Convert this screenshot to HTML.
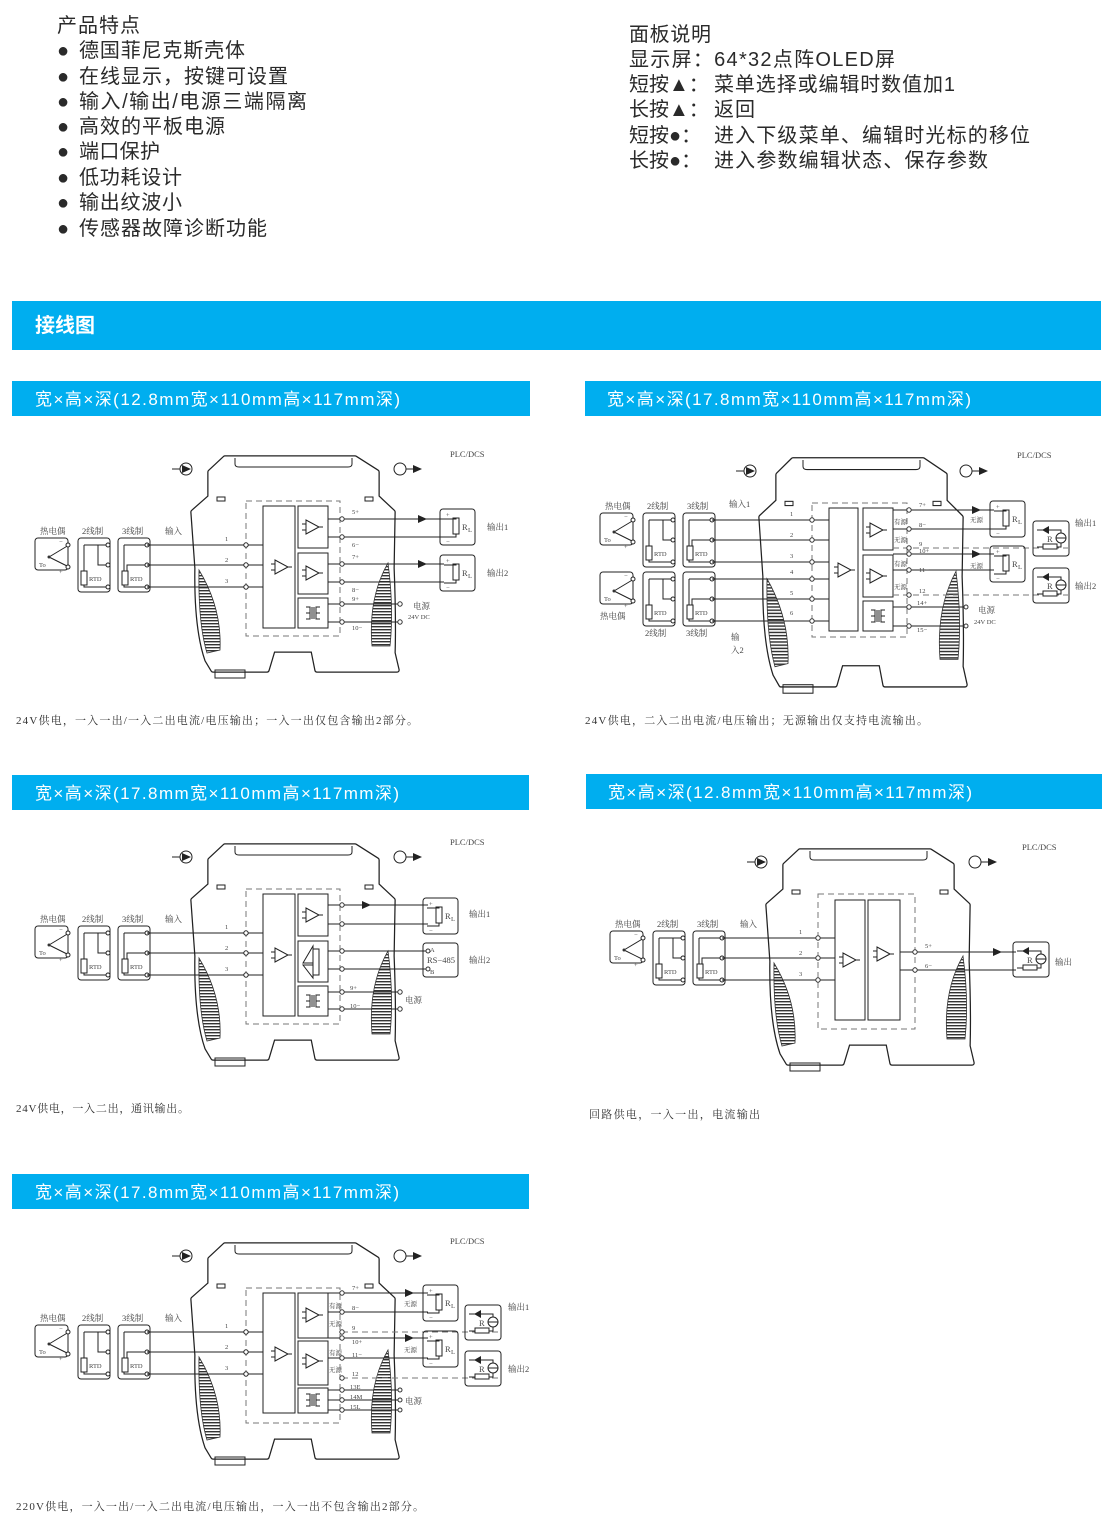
<!DOCTYPE html>
<html><head><meta charset="utf-8"><style>
html,body{margin:0;padding:0;background:#fff}
svg{display:block}
.t{font-family:"Liberation Sans","Noto Sans CJK SC",sans-serif;font-size:20px;fill:#2a2a2a}
.bar{font-family:"Liberation Sans","Noto Sans CJK SC",sans-serif;font-size:17px;fill:#fff}
.cap{font-family:"Liberation Serif","Noto Serif CJK SC",serif;font-size:11px;fill:#333}
.d{font-family:"Liberation Serif","Noto Serif CJK SC",serif;font-size:8.5px;fill:#444}
.s{font-family:"Liberation Serif","Noto Serif CJK SC",serif;font-size:6.5px;fill:#444}
.l{fill:none;stroke:#222;stroke-width:1}
.k{fill:#fff;stroke:#222;stroke-width:1}
.dash{fill:none;stroke:#777;stroke-width:1;stroke-dasharray:6 4}
</style></head><body>
<svg width="1115" height="1523" viewBox="0 0 1115 1523" xmlns="http://www.w3.org/2000/svg">
<defs>
<pattern id="h" width="4" height="3" patternUnits="userSpaceOnUse"><rect width="4" height="1.4" fill="#333"/></pattern>
<g id="house">
 <path d="M35,0 L165,0 L187,14 L187,39 L203,54 L202,110 Q204,160 203,195 L207,212 L127,212 L123,192 L83,192 L77,212 L23,212 L17,202 Q6,170 7,110 L3,54 L20,39 L20,14 Z" fill="none" stroke="#222" stroke-width="5.5" stroke-linejoin="round"/>
 <path d="M35,0 L165,0 L187,14 L187,39 L203,54 L202,110 Q204,160 203,195 L207,212 L127,212 L123,192 L83,192 L77,212 L23,212 L17,202 Q6,170 7,110 L3,54 L20,39 L20,14 Z" fill="#fff" stroke="#fff" stroke-width="3" stroke-linejoin="round"/>
 <path d="M45,0 L45,6 Q45,9 49,9 L158,9 Q162,9 162,6 L162,0" class="l"/>
 <rect x="27" y="39" width="8" height="4" class="k"/><rect x="175" y="39" width="8" height="4" class="k"/>
 <path d="M9,112 Q32,150 30,192 L17,195 Q8,165 9,112 Z" fill="url(#h)" stroke="#333" stroke-width="0.8"/>
 <path d="M198,105 Q178,140 182,188 L200,188 Q204,150 198,105 Z" fill="url(#h)" stroke="#333" stroke-width="0.8"/>
 <rect x="25" y="212" width="30" height="8" class="l"/>
</g>
<g id="arrows">
 <path d="M172,469 H180" class="l"/><circle cx="186" cy="469" r="6" class="k"/><path d="M182,465 L191,469 L182,473 Z" fill="#222"/>
 <circle cx="400" cy="469" r="6" class="k"/><path d="M406,469 H414" class="l"/><path d="M413,465 L422,469 L413,473 Z" fill="#222"/>
</g>
<g id="senslab"><text x="4" y="4" class="d">热电偶</text><text x="46" y="4" class="d">2线制</text><text x="86" y="4" class="d">3线制</text></g>
<g id="sens">
 <rect x="-1" y="8" width="33" height="32" rx="3" class="l"/>
 <path d="M13,27 L33,15 M13,27 L33,37" class="l"/><circle cx="13" cy="27" r="1.5" fill="#333"/>
 <circle cx="32" cy="15" r="2" class="k"/><circle cx="32" cy="37" r="2" class="k"/>
 <text x="3" y="37" class="s">To</text><text x="23" y="14" class="s">−</text><text x="23" y="44" class="s">+</text>
 <rect x="42" y="8" width="32" height="54" rx="3" class="l"/>
 <path d="M48,15 H72 M62,15 V35 H72 M48,15 V57 H72" class="l"/><rect x="45" y="41" width="6" height="14" class="k"/>
 <text x="53" y="51" class="s">RTD</text>
 <circle cx="72" cy="15" r="2" class="k"/><circle cx="72" cy="35" r="2" class="k"/><circle cx="72" cy="57" r="2" class="k"/>
 <rect x="82" y="8" width="32" height="54" rx="3" class="l"/>
 <path d="M88,15 H111 M88,15 V57 H111 M91,41 V35 H111" class="l"/><rect x="86" y="41" width="6" height="14" class="k"/>
 <text x="94" y="51" class="s">RTD</text>
 <circle cx="111" cy="15" r="2" class="k"/><circle cx="111" cy="35" r="2" class="k"/><circle cx="111" cy="57" r="2" class="k"/>
</g>
<g id="amp"><path d="M0,-7 L0,7 L13,0 Z" class="k"/><path d="M-4,-3 H0 M-4,3 H0 M13,0 H17" class="l"/></g>
<g id="tr"><path d="M-7,-6 H-3 V6 H-7 M7,-6 H3 V6 H7 M-1,-6 V6 M1,-6 V6 M-7,0 H-3 M3,0 H7" class="l"/></g>
<g id="rl"><rect x="0" y="0" width="35" height="36" rx="3" class="l"/><rect x="13" y="9" width="6" height="16" class="k"/><path d="M4,10 H16 V9 M16,25 V28 H4" class="l"/><text x="22" y="21" class="d">R</text><text x="28" y="23" class="s">L</text><text x="6" y="8" class="s">+</text><text x="6" y="35" class="s">−</text></g>
<g id="src"><rect x="0" y="0" width="36" height="35" rx="3" class="l"/><path d="M4,9 H28 V12 M28,22 V26 H4" class="l"/><path d="M9,9 L16,5 L16,13 Z" fill="#222"/><circle cx="28" cy="17" r="5" class="k"/><path d="M23,17 H33" class="l"/><rect x="10" y="23" width="14" height="5" class="k"/><text x="14" y="21" class="d">R</text></g>
<g id="base">
 <use href="#house" transform="translate(190,458)"/>
 <use href="#arrows"/>
 <text x="450" y="457" class="d">PLC/DCS</text>
 <use href="#senslab" transform="translate(36,530)"/>
 <use href="#sens" transform="translate(36,530)"/>
 <text x="165" y="534" class="d">输入</text>
 <rect x="246" y="501" width="94" height="135" class="dash"/>
 <path d="M147,545 H263 M147,565 H263 M147,587 H263" class="l"/>
 <circle cx="246" cy="545" r="2.2" class="k"/><circle cx="246" cy="565" r="2.2" class="k"/><circle cx="246" cy="587" r="2.2" class="k"/>
 <text x="225" y="541" class="s">1</text><text x="225" y="562" class="s">2</text><text x="225" y="583" class="s">3</text>
</g>
</defs>

<!-- header text -->
<text x="57" y="32" class="t" textLength="83">产品特点</text>
<g class="t">
<text x="57" y="57">●</text><text x="79" y="57" textLength="166">德国菲尼克斯壳体</text>
<text x="57" y="83">●</text><text x="79" y="83" textLength="209">在线显示，按键可设置</text>
<text x="57" y="108">●</text><text x="79" y="108" textLength="228">输入/输出/电源三端隔离</text>
<text x="57" y="133">●</text><text x="79" y="133" textLength="146">高效的平板电源</text>
<text x="57" y="158">●</text><text x="79" y="158" textLength="81">端口保护</text>
<text x="57" y="184">●</text><text x="79" y="184" textLength="103">低功耗设计</text>
<text x="57" y="209">●</text><text x="79" y="209" textLength="103">输出纹波小</text>
<text x="57" y="235">●</text><text x="79" y="235" textLength="188">传感器故障诊断功能</text>
<text x="629" y="41" textLength="82">面板说明</text>
<text x="629" y="66" textLength="266">显示屏：64*32点阵OLED屏</text>
<text x="629" y="91">短按▲：</text><text x="714" y="91" textLength="241">菜单选择或编辑时数值加1</text>
<text x="629" y="116">长按▲：</text><text x="714" y="116" textLength="41">返回</text>
<text x="629" y="142">短按●：</text><text x="714" y="142" textLength="316">进入下级菜单、编辑时光标的移位</text>
<text x="629" y="167">长按●：</text><text x="714" y="167" textLength="274">进入参数编辑状态、保存参数</text>
</g>

<rect x="12" y="301" width="1089" height="49" fill="#00aeef"/>
<text x="35" y="332" style="font-family:'Liberation Sans','Noto Sans CJK SC',sans-serif;font-size:20px;font-weight:bold;fill:#fff">接线图</text>

<rect x="12" y="381" width="518" height="35" fill="#00aeef"/>
<text x="35" y="405" class="bar" textLength="365">宽×高×深(12.8mm宽×110mm高×117mm深)</text>
<rect x="585" y="381" width="516" height="35" fill="#00aeef"/>
<text x="607" y="405" class="bar" textLength="364">宽×高×深(17.8mm宽×110mm高×117mm深)</text>
<rect x="12" y="775" width="517" height="35" fill="#00aeef"/>
<text x="35" y="799" class="bar" textLength="364">宽×高×深(17.8mm宽×110mm高×117mm深)</text>
<rect x="586" y="774" width="516" height="35" fill="#00aeef"/>
<text x="608" y="798" class="bar" textLength="364">宽×高×深(12.8mm宽×110mm高×117mm深)</text>
<rect x="12" y="1174" width="517" height="35" fill="#00aeef"/>
<text x="35" y="1198" class="bar" textLength="364">宽×高×深(17.8mm宽×110mm高×117mm深)</text>

<text x="16" y="724" class="cap" textLength="402">24V供电，一入一出/一入二出电流/电压输出；一入一出仅包含输出2部分。</text>
<text x="585" y="724" class="cap" textLength="343">24V供电，二入二出电流/电压输出；无源输出仅支持电流输出。</text>
<text x="16" y="1112" class="cap" textLength="173">24V供电，一入二出，通讯输出。</text>
<text x="589" y="1118" class="cap" textLength="171">回路供电，一入一出，电流输出</text>
<text x="16" y="1510" class="cap" textLength="408">220V供电，一入一出/一入二出电流/电压输出，一入一出不包含输出2部分。</text>

<!-- Diagram 1 -->
<g>
 <use href="#base"/>
 <rect x="263" y="506" width="32" height="122" class="k"/><use href="#amp" transform="translate(275,567)"/>
 <rect x="298" y="506" width="30" height="42" class="k"/><use href="#amp" transform="translate(306,527)"/>
 <rect x="298" y="553" width="30" height="41" class="k"/><use href="#amp" transform="translate(306,573)"/>
 <rect x="298" y="598" width="30" height="30" class="k"/><use href="#tr" transform="translate(313,613)"/>
 <path d="M328,519 H444 M328,537 H444 M328,564 H444 M328,582 H444 M328,604 H400 M328,622 H400" class="l"/>
 <path d="M418,515 L427,519 L418,523 Z M418,560 L427,564 L418,568 Z" fill="#222"/>
 <g fill="#fff" stroke="#333"><circle cx="342" cy="519" r="2.2"/><circle cx="342" cy="537" r="2.2"/><circle cx="342" cy="564" r="2.2"/><circle cx="342" cy="582" r="2.2"/><circle cx="342" cy="604" r="2.2"/><circle cx="342" cy="622" r="2.2"/><circle cx="400" cy="604" r="2.2"/><circle cx="400" cy="622" r="2.2"/></g>
 <use href="#rl" transform="translate(440,509)"/><use href="#rl" transform="translate(440,555)"/>
 <text x="487" y="530" class="d">输出1</text><text x="487" y="576" class="d">输出2</text>
 <text x="413" y="609" class="d">电源</text><text x="408" y="619" class="s">24V DC</text>
 <g class="s"><text x="352" y="514">5+</text><text x="352" y="547">6−</text><text x="352" y="559">7+</text><text x="352" y="592">8−</text><text x="352" y="601">9+</text><text x="352" y="630">10−</text></g>
</g>

<!-- Diagram 3 -->
<g transform="translate(0,388)">
 <use href="#base"/>
 <rect x="263" y="506" width="32" height="122" class="k"/><use href="#amp" transform="translate(275,567)"/>
 <rect x="298" y="506" width="30" height="42" class="k"/><use href="#amp" transform="translate(306,527)"/>
 <rect x="298" y="553" width="30" height="41" class="k"/><path d="M303,575 L313,558 L313,575 Z M303,577 L313,577 L313,590 Z" class="l"/><rect x="313" y="561" width="6" height="26" class="l"/>
 <rect x="298" y="598" width="30" height="30" class="k"/><use href="#tr" transform="translate(313,613)"/>
 <path d="M328,517 H428 M328,536 H428 M328,563 H428 M328,581 H428 M328,604 H400 M328,621 H400" class="l"/>
 <path d="M362,513 L371,517 L362,521 Z" fill="#222"/>
 <g fill="#fff" stroke="#333"><circle cx="342" cy="517" r="2.2"/><circle cx="342" cy="536" r="2.2"/><circle cx="342" cy="563" r="2.2"/><circle cx="342" cy="581" r="2.2"/><circle cx="342" cy="604" r="2.2"/><circle cx="342" cy="621" r="2.2"/><circle cx="400" cy="604" r="2.2"/><circle cx="400" cy="621" r="2.2"/><circle cx="428" cy="563" r="2"/><circle cx="428" cy="581" r="2"/></g>
 <use href="#rl" transform="translate(423,510)"/>
 <rect x="423" y="555" width="35" height="34" rx="3" class="l"/>
 <text x="430" y="564" class="s">A</text><text x="427" y="575" class="d">RS−485</text><text x="430" y="586" class="s">B</text>
 <text x="469" y="529" class="d">输出1</text><text x="469" y="575" class="d">输出2</text>
 <text x="405" y="615" class="d">电源</text>
 <g class="s"><text x="350" y="602">9+</text><text x="350" y="620">10−</text></g>
</g>

<!-- Diagram 5 -->
<g transform="translate(0,787)">
 <use href="#base"/>
</g>
<g>
 <rect x="263" y="1293" width="32" height="120" class="k"/><use href="#amp" transform="translate(275,1354)"/>
 <rect x="298" y="1293" width="30" height="45" class="k"/><use href="#amp" transform="translate(306,1315)"/>
 <rect x="298" y="1341" width="30" height="44" class="k"/><use href="#amp" transform="translate(306,1361)"/>
 <rect x="298" y="1388" width="30" height="25" class="k"/><use href="#tr" transform="translate(313,1400)"/>
 <path d="M328,1293 H428 M328,1312 H428 M328,1338 H428 M328,1358 H428 M328,1390 H400 M328,1400 H400 M328,1410 H400" class="l"/>
 <path d="M342,1332 H502 M342,1378 H502" class="dash"/>
 <path d="M405,1289 L414,1293 L405,1297 Z M405,1334 L414,1338 L405,1342 Z" fill="#222"/>
 <g fill="#fff" stroke="#333"><circle cx="342" cy="1293" r="2.2"/><circle cx="342" cy="1312" r="2.2"/><circle cx="342" cy="1332" r="2.2"/><circle cx="342" cy="1338" r="2.2"/><circle cx="342" cy="1358" r="2.2"/><circle cx="342" cy="1378" r="2.2"/><circle cx="342" cy="1390" r="2.2"/><circle cx="342" cy="1400" r="2.2"/><circle cx="342" cy="1410" r="2.2"/><circle cx="400" cy="1390" r="2"/><circle cx="400" cy="1400" r="2"/><circle cx="400" cy="1410" r="2"/></g>
 <use href="#rl" transform="translate(423,1285)"/><use href="#rl" transform="translate(423,1331)"/>
 <use href="#src" transform="translate(465,1305)"/><use href="#src" transform="translate(465,1351)"/>
 <text x="508" y="1310" class="d">输出1</text><text x="508" y="1372" class="d">输出2</text>
 <text x="405" y="1404" class="d">电源</text>
 <g class="s"><text x="352" y="1290">7+</text><text x="352" y="1310">8−</text><text x="352" y="1330">9</text><text x="352" y="1344">10+</text><text x="352" y="1357">11−</text><text x="352" y="1376">12</text><text x="350" y="1389">13E</text><text x="350" y="1399">14M</text><text x="350" y="1409">15L</text></g>
 <g class="s"><text x="329" y="1308">有源</text><text x="329" y="1326">无源</text><text x="329" y="1355">有源</text><text x="329" y="1372">无源</text><text x="404" y="1306">无源</text><text x="404" y="1352">无源</text></g>
</g>

<!-- Diagram 4 -->
<g transform="translate(575,393)">
 <use href="#house" transform="translate(190,458)"/>
 <use href="#arrows"/>
 <text x="447" y="457" class="d">PLC/DCS</text>
 <use href="#senslab" transform="translate(36,530)"/>
 <use href="#sens" transform="translate(36,530)"/>
 <text x="165" y="534" class="d">输入</text>
 <rect x="243" y="501" width="97" height="135" class="dash"/>
 <path d="M147,545 H260 M147,565 H260 M147,587 H260" class="l"/>
 <g fill="#fff" stroke="#333"><circle cx="243" cy="545" r="2.2"/><circle cx="243" cy="565" r="2.2"/><circle cx="243" cy="587" r="2.2"/></g>
 <text x="224" y="541" class="s">1</text><text x="224" y="562" class="s">2</text><text x="224" y="583" class="s">3</text>
 <rect x="260" y="507" width="30" height="120" class="k"/><use href="#amp" transform="translate(268,567)"/>
 <rect x="293" y="507" width="32" height="120" class="k"/><use href="#amp" transform="translate(302,561)"/>
 <path d="M325,559 H441 M325,577 H441" class="l"/>
 <path d="M418,555 L427,559 L418,563 Z" fill="#222"/>
 <g fill="#fff" stroke="#333"><circle cx="340" cy="559" r="2.2"/><circle cx="340" cy="577" r="2.2"/></g>
 <use href="#src" transform="translate(438,549)"/>
 <text x="480" y="572" class="d">输出</text>
 <g class="s"><text x="350" y="555">5+</text><text x="350" y="575">6−</text></g>
</g>

<!-- Diagram 2 -->
<g>
 <use href="#house" transform="translate(758,460) scale(1,1.06)"/>
 <path d="M736,471 H744" class="l"/><circle cx="750" cy="471" r="6" class="k"/><path d="M746,467 L755,471 L746,475 Z" fill="#222"/>
 <circle cx="966" cy="471" r="6" class="k"/><path d="M972,471 H980" class="l"/><path d="M979,467 L988,471 L979,475 Z" fill="#222"/>
 <text x="1017" y="458" class="d">PLC/DCS</text>
 <use href="#senslab" transform="translate(601,505)"/>
 <use href="#sens" transform="translate(601,505)"/>
 <use href="#sens" transform="translate(601,564)"/>
 <text x="600" y="619" class="d">热电偶</text><text x="645" y="636" class="d">2线制</text><text x="686" y="636" class="d">3线制</text>
 <text x="729" y="507" class="d">输入1</text><text x="731" y="640" class="d">输</text><text x="731" y="653" class="d">入2</text>
 <rect x="812" y="503" width="95" height="134" class="dash"/>
 <path d="M712,520 H829 M712,540 H829 M712,562 H829 M712,579 H829 M712,599 H829 M712,621 H829" class="l"/>
 <g fill="#fff" stroke="#333"><circle cx="812" cy="520" r="2.2"/><circle cx="812" cy="540" r="2.2"/><circle cx="812" cy="562" r="2.2"/><circle cx="812" cy="579" r="2.2"/><circle cx="812" cy="599" r="2.2"/><circle cx="812" cy="621" r="2.2"/></g>
 <g class="s"><text x="790" y="516">1</text><text x="790" y="537">2</text><text x="790" y="558">3</text><text x="790" y="574">4</text><text x="790" y="595">5</text><text x="790" y="615">6</text></g>
 <rect x="829" y="508" width="29" height="123" class="k"/><use href="#amp" transform="translate(838,570)"/>
 <rect x="863" y="508" width="30" height="42" class="k"/><use href="#amp" transform="translate(870,530)"/>
 <rect x="863" y="555" width="30" height="42" class="k"/><use href="#amp" transform="translate(870,576)"/>
 <rect x="863" y="601" width="30" height="30" class="k"/><use href="#tr" transform="translate(878,616)"/>
 <path d="M893,510 H994 M893,529 H994 M893,554 H994 M893,570 H994 M893,607 H966 M893,626 H966" class="l"/>
 <path d="M893,548 H1068 M893,595 H1068" class="dash"/>
 <path d="M972,506 L981,510 L972,514 Z M972,550 L981,554 L972,558 Z" fill="#222"/>
 <g fill="#fff" stroke="#333"><circle cx="909" cy="510" r="2.2"/><circle cx="909" cy="529" r="2.2"/><circle cx="909" cy="548" r="2.2"/><circle cx="909" cy="554" r="2.2"/><circle cx="909" cy="570" r="2.2"/><circle cx="909" cy="595" r="2.2"/><circle cx="909" cy="607" r="2.2"/><circle cx="909" cy="626" r="2.2"/><circle cx="966" cy="607" r="2"/><circle cx="966" cy="626" r="2"/></g>
 <use href="#rl" transform="translate(990,501)"/><use href="#rl" transform="translate(990,546)"/>
 <use href="#src" transform="translate(1033,521)"/><use href="#src" transform="translate(1033,568)"/>
 <text x="1075" y="526" class="d">输出1</text><text x="1075" y="589" class="d">输出2</text>
 <text x="978" y="613" class="d">电源</text><text x="974" y="624" class="s">24V DC</text>
 <g class="s"><text x="919" y="507">7+</text><text x="919" y="527">8−</text><text x="919" y="546">9</text><text x="919" y="553">10+</text><text x="919" y="572">11−</text><text x="919" y="593">12</text><text x="917" y="605">14+</text><text x="917" y="632">15−</text></g>
 <g class="s"><text x="894" y="524">有源</text><text x="894" y="542">无源</text><text x="894" y="566">有源</text><text x="894" y="589">无源</text><text x="970" y="522">无源</text><text x="970" y="568">无源</text></g>
</g>
</svg>
</body></html>
